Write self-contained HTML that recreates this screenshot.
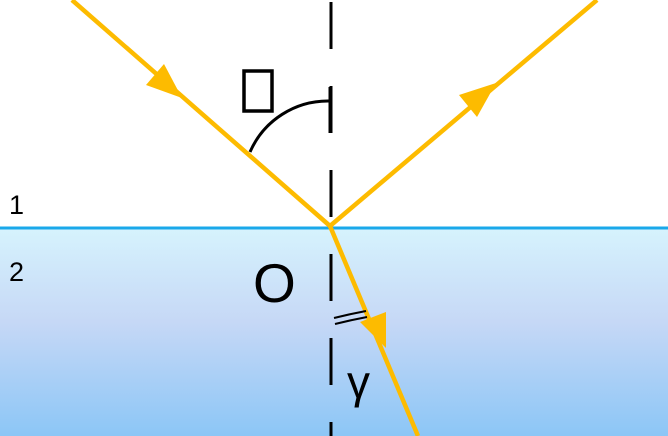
<!DOCTYPE html>
<html><head><style>
body{margin:0;background:#fff}
svg{display:block}
text{font-family:"Liberation Sans",sans-serif}
</style></head><body>
<svg width="668" height="436" viewBox="0 0 668 436">
<defs>
<linearGradient id="w" x1="0" y1="0" x2="0" y2="1">
<stop offset="0" stop-color="#d6f3fd"/>
<stop offset="0.45" stop-color="#c6d8f6"/>
<stop offset="1" stop-color="#8cc6f6"/>
</linearGradient>
</defs>
<rect x="0" y="228" width="668" height="208" fill="url(#w)"/>
<line x1="0" y1="228" x2="668" y2="228" stroke="#1aa8ea" stroke-width="3"/>
<line x1="331" y1="2" x2="331" y2="436" stroke="#000" stroke-width="3" stroke-dasharray="47 37"/>
<path d="M250,152 A85,85 0 0 1 330,101" fill="none" stroke="#000" stroke-width="3"/>
<line x1="330" y1="87" x2="330" y2="133" stroke="#000" stroke-width="3"/>
<rect x="244" y="71" width="28" height="40" fill="none" stroke="#000" stroke-width="3.5"/>
<g stroke="#fdbb00" stroke-width="4.5" fill="none">
<line x1="72" y1="0" x2="330" y2="226"/>
<line x1="330" y1="226" x2="597" y2="0"/>
<line x1="330" y1="226" x2="418" y2="436"/>
</g>
<g fill="#fdbb00">
<polygon points="182,98 146,85 164,64"/>
<polygon points="496,83 477,117 459,95"/>
<polygon points="386,348 386,312 360,322"/>
</g>
<path d="M334,318 Q350,314 366,311 M335,324 Q351,320 367,317" fill="none" stroke="#000" stroke-width="2"/>
<text x="9" y="214" font-size="27">1</text>
<text x="9" y="281" font-size="27">2</text>
<text x="253" y="302" font-size="55">O</text>
<text x="347" y="398" font-size="46">γ</text>
</svg>
</body></html>
